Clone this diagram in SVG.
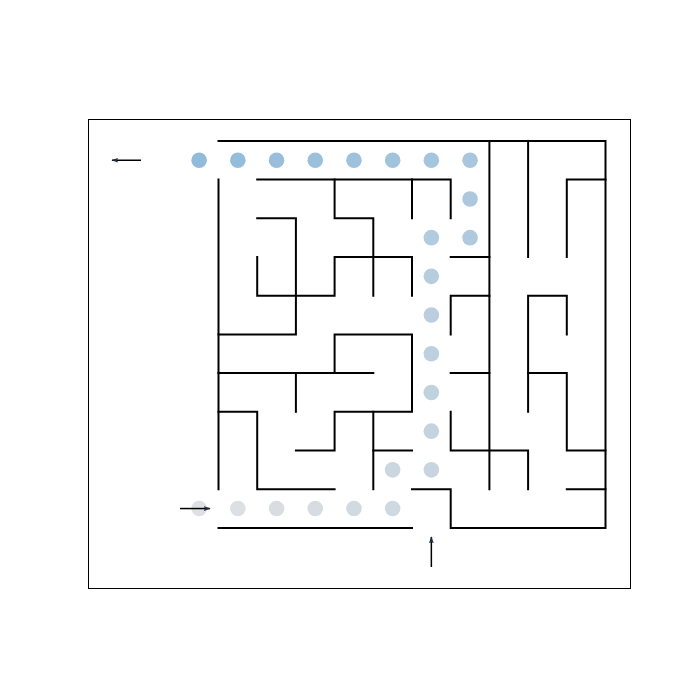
<svg xmlns="http://www.w3.org/2000/svg" width="700" height="700" viewBox="0 0 700 700">
<style>
.frame{fill:none;stroke:#000;stroke-width:1}
.wall{fill:none;stroke:#000;stroke-width:2;stroke-linecap:square}
.arrow{fill:none;stroke:#000;stroke-width:1.5}
.dot{stroke:none}
</style>
<defs>
<marker id="head" viewBox="0 0 10 10" refX="9" refY="5" markerWidth="7" markerHeight="7" orient="auto" markerUnits="userSpaceOnUse">
<path d="M0,1.5 L10,5 L0,8.5 L2,5 Z" fill="#1b2d40"/>
</marker>
</defs>
<rect width="700" height="700" fill="#fff"/>
<rect class="frame" x="88.5" y="119.5" width="542" height="469"/>
<g id="walls" class="wall">
<path d="M218.5,140.9 H605.5 V527.9 H450.7 V489.2 H412.0"/>
<path d="M412.0,527.9 H218.5"/>
<path d="M218.5,179.6 V489.2"/>
<path d="M257.2,179.6 H450.7 V218.3"/>
<path d="M334.6,179.6 V218.3 H373.3 V295.7"/>
<path d="M412.0,179.6 V218.3"/>
<path d="M257.2,218.3 H295.9 V334.4 H218.5"/>
<path d="M257.2,257.0 V295.7 H334.6 V257.0 H412.0 V295.7"/>
<path d="M450.7,257.0 H489.4"/>
<path d="M489.4,140.9 V489.2"/>
<path d="M528.1,140.9 V257.0"/>
<path d="M605.5,179.6 H566.8 V257.0"/>
<path d="M450.7,334.4 V295.7 H489.4"/>
<path d="M528.1,411.8 V295.7 H566.8 V334.4"/>
<path d="M334.6,373.1 V334.4 H412.0 V411.8 H334.6 V450.5 H295.9"/>
<path d="M218.5,373.1 H373.3"/>
<path d="M295.9,373.1 V411.8"/>
<path d="M218.5,411.8 H257.2 V489.2 H334.6"/>
<path d="M373.3,411.8 V489.2"/>
<path d="M373.3,450.5 H412.0"/>
<path d="M450.7,373.1 H489.4"/>
<path d="M528.1,373.1 H566.8 V450.5 H605.5"/>
<path d="M450.7,411.8 V450.5 H528.1 V489.2"/>
<path d="M566.8,489.2 H605.5"/>
</g>
<g id="path-dots" class="dot">
<g id="d0"><circle cx="199.15" cy="508.55" r="7.8" fill="#dfe0e3"/></g>
<g id="d1"><circle cx="237.85" cy="508.55" r="7.8" fill="#dcdfe3"/></g>
<g id="d2"><circle cx="276.55" cy="508.55" r="7.8" fill="#d9dde2"/></g>
<g id="d3"><circle cx="315.25" cy="508.55" r="7.8" fill="#d6dce2"/></g>
<g id="d4"><circle cx="353.95" cy="508.55" r="7.8" fill="#d2dae1"/></g>
<g id="d5"><circle cx="392.65" cy="508.55" r="7.8" fill="#cfd9e1"/></g>
<g id="d6"><circle cx="392.65" cy="469.85" r="7.8" fill="#cbd7e0"/></g>
<g id="d7"><circle cx="431.35" cy="469.85" r="7.8" fill="#c8d5e0"/></g>
<g id="d8"><circle cx="431.35" cy="431.15" r="7.8" fill="#c4d3e0"/></g>
<g id="d9"><circle cx="431.35" cy="392.45" r="7.8" fill="#c1d2df"/></g>
<g id="d10"><circle cx="431.35" cy="353.75" r="7.8" fill="#bdd0df"/></g>
<g id="d11"><circle cx="431.35" cy="315.05" r="7.8" fill="#bacedf"/></g>
<g id="d12"><circle cx="431.35" cy="276.35" r="7.8" fill="#b6cdde"/></g>
<g id="d13"><circle cx="431.35" cy="237.65" r="7.8" fill="#b3cbde"/></g>
<g id="d14"><circle cx="470.05" cy="237.65" r="7.8" fill="#afc9de"/></g>
<g id="d15"><circle cx="470.05" cy="198.95" r="7.8" fill="#abc8dd"/></g>
<g id="d16"><circle cx="470.05" cy="160.25" r="7.8" fill="#a8c6dd"/></g>
<g id="d17"><circle cx="431.35" cy="160.25" r="7.8" fill="#a5c4dd"/></g>
<g id="d18"><circle cx="392.65" cy="160.25" r="7.8" fill="#a2c3dc"/></g>
<g id="d19"><circle cx="353.95" cy="160.25" r="7.8" fill="#9ec1dc"/></g>
<g id="d20"><circle cx="315.25" cy="160.25" r="7.8" fill="#9bc0dc"/></g>
<g id="d21"><circle cx="276.55" cy="160.25" r="7.8" fill="#98bedc"/></g>
<g id="d22"><circle cx="237.85" cy="160.25" r="7.8" fill="#94bddb"/></g>
<g id="d23"><circle cx="199.15" cy="160.25" r="7.8" fill="#91bbdb"/></g>
</g>
<g id="connectors" class="arrow">
<path d="M141,160.25 H112" marker-end="url(#head)"/>
<path d="M180,508.55 H210" marker-end="url(#head)"/>
<path d="M431.35,567 V537" marker-end="url(#head)"/>
</g>
</svg>
